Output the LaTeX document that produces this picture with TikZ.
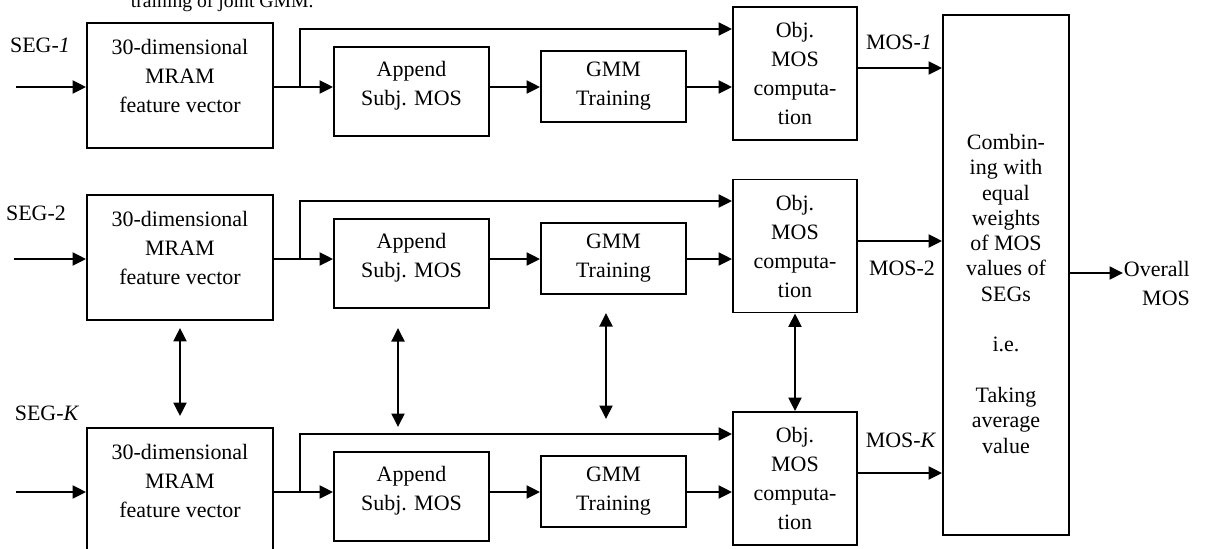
\documentclass[tikz,border=0pt]{standalone}
\usepackage{fontspec}
\setmainfont{Liberation Serif}
\usetikzlibrary{arrows.meta, positioning, calc}
\newcommand{\blkfont}{\fontsize{12.5}{16.5}\selectfont}
\newcommand{\combfont}{\fontsize{12.5}{14.4}\selectfont}
\tikzset{>={Triangle[length=2.7mm,width=2.6mm]}}

\begin{document}
\begin{tikzpicture}[x=0.02cm, y=-0.02cm, line width=1.1pt,
    blk/.style={draw, align=center, inner sep=0pt, font=\blkfont},
    fvec/.style={blk, minimum width=3.72cm, minimum height=2.5cm},
    appbox/.style={blk, minimum width=3.1cm, minimum height=1.78cm},
    gmmbox/.style={blk, minimum width=2.9cm, minimum height=1.42cm},
    objbox/.style={blk, minimum width=2.48cm, minimum height=2.66cm},
    lbl/.style={inner sep=0pt, font=\blkfont}]

    \clip (0,0) rectangle (1214,548);

    \node [lbl, font=\fontsize{11.2}{13}\selectfont, anchor=base west] (cap) at (130,7) {training of joint GMM.};

    % combining block
    \node [blk, font=\combfont, minimum width=2.52cm, minimum height=10.4cm] (comb) at (1006,275)
        {\mbox{}\\[0.55cm]Combin-\\ing with\\equal\\weights\\of MOS\\values of\\SEGs\\[14.4pt]i.e.\\[14.4pt]Taking\\average\\value};
    \coordinate (ov) at (1123,273);
    \node [lbl, anchor=base west, align=right] (ovr) at ($(ov)+(0,32)$) {Overall\\MOS};
    \draw [->] (ov -| comb.east) -- (ov);

    % segment 1
    \node [lbl] (seg1) at (40,45) {SEG-\textit{1}};
    \coordinate (in1) at (16,87);
    \coordinate (br1) at (300,87);
    \coordinate (up1) at (300,29);
    \node [fvec] (fv1) at (180,85.5) {30-dimensional\\MRAM\\feature vector\\[-2mm]\mbox{}};
    \node [appbox] (ap1) at (411.5,91.5) {Append\\Subj. MOS\\[-2.5mm]\mbox{}};
    \node [gmmbox] (gm1) at (613.5,86.5) {GMM\\Training};
    \node [objbox] (ob1) at (795,73.5) {Obj.\\MOS\\computa-\\tion};
    \coordinate (mo1) at (857,68);
    \node [lbl] (mos1) at (899,42) {MOS-\textit{1}};

    \draw [->] (in1) -- (in1 -| fv1.west);
    \draw [->] (br1 -| fv1.east) -- (br1 -| ap1.west);
    \draw [->] (br1 -| ap1.east) -- (br1 -| gm1.west);
    \draw [->] (br1 -| gm1.east) -- (br1 -| ob1.west);
    \draw [->] (br1) -- (up1) -- (up1 -| ob1.west);
    \draw [->] (mo1) -- (mo1 -| comb.west);

    % segment 2
    \node [lbl] (seg2) at (36,213) {SEG-2};
    \coordinate (in2) at (14,259);
    \coordinate (br2) at (300,259);
    \coordinate (up2) at (300,201);
    \node [fvec] (fv2) at (180,257.5) {30-dimensional\\MRAM\\feature vector\\[-2mm]\mbox{}};
    \node [appbox] (ap2) at (411.5,263.5) {Append\\Subj. MOS\\[-2.5mm]\mbox{}};
    \node [gmmbox] (gm2) at (613.5,258.5) {GMM\\Training};
    \node [objbox] (ob2) at (795,246) {Obj.\\MOS\\computa-\\tion};
    \coordinate (mo2) at (857,241);
    \node [lbl] (mos2) at (902,268) {MOS-2};

    \draw [->] (in2) -- (in2 -| fv2.west);
    \draw [->] (br2 -| fv2.east) -- (br2 -| ap2.west);
    \draw [->] (br2 -| ap2.east) -- (br2 -| gm2.west);
    \draw [->] (br2 -| gm2.east) -- (br2 -| ob2.west);
    \draw [->] (br2) -- (up2) -- (up2 -| ob2.west);
    \draw [->] (mo2) -- (mo2 -| comb.west);

    % segment K
    \node [lbl] (segK) at (47,413) {SEG-\textit{K}};
    \coordinate (inK) at (16,492);
    \coordinate (brK) at (300,492);
    \coordinate (upK) at (300,434);
    \node [fvec] (fvK) at (180,490.5) {30-dimensional\\MRAM\\feature vector\\[-2mm]\mbox{}};
    \node [appbox] (apK) at (411.5,496.5) {Append\\Subj. MOS\\[-2.5mm]\mbox{}};
    \node [gmmbox] (gmK) at (613.5,491.5) {GMM\\Training};
    \node [objbox] (obK) at (795,478.5) {Obj.\\MOS\\computa-\\tion};
    \coordinate (moK) at (857,473);
    \node [lbl] (mosK) at (901,440) {MOS-\textit{K}};

    \draw [->] (inK) -- (inK -| fvK.west);
    \draw [->] (brK -| fvK.east) -- (brK -| apK.west);
    \draw [->] (brK -| apK.east) -- (brK -| gmK.west);
    \draw [->] (brK -| gmK.east) -- (brK -| obK.west);
    \draw [->] (brK) -- (upK) -- (upK -| obK.west);
    \draw [->] (moK) -- (moK -| comb.west);

    % links between segment 2 and segment K
    \coordinate (va1) at (398,328);
    \coordinate (va2) at (398,427);
    \coordinate (vg1) at (606,313);
    \coordinate (vg2) at (606,419);
    \draw [<->, shorten <=0.14cm, shorten >=0.22cm] (fv2.south) -- (fvK.north);
    \draw [<->] (va1) -- (va2);
    \draw [<->] (vg1) -- (vg2);
    \draw [<->] (ob2.south) -- (obK.north);

\end{tikzpicture}
\end{document}
